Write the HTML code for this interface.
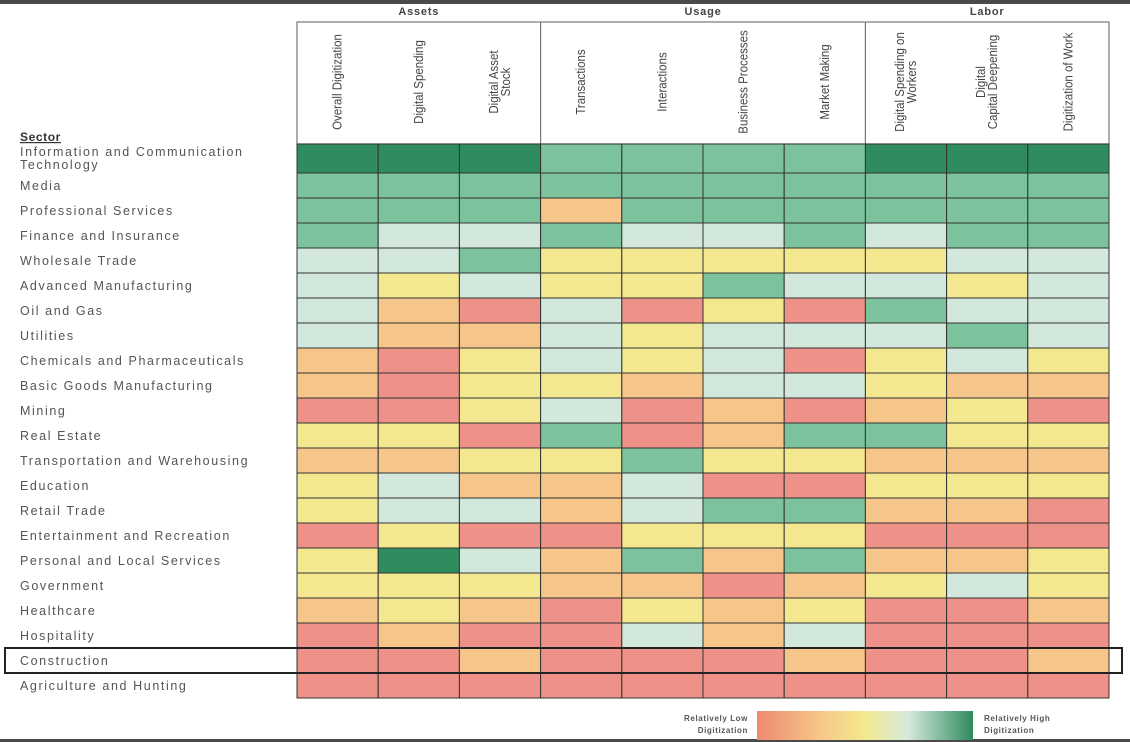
<!DOCTYPE html>
<html><head><meta charset="utf-8">
<style>
html,body{margin:0;padding:0;background:#fff;width:1130px;height:742px;overflow:hidden}
svg{display:block}
text{font-family:"Liberation Sans",sans-serif}
</style></head>
<body>
<svg id="chart" width="1130" height="742" viewBox="0 0 1130 742">
<rect x="0" y="0" width="1130" height="4" fill="#4a4a4a"/>
<rect x="0" y="739" width="1130" height="3" fill="#4a4a4a"/>
<g id="hdr"></g>
<g id="cells"></g>
<g id="labels"></g>
<defs>
<linearGradient id="lg" x1="0" x2="1" y1="0" y2="0">
<stop offset="0" stop-color="#ee8a72"/><stop offset="0.3" stop-color="#f6c888"/>
<stop offset="0.5" stop-color="#f3e98e"/><stop offset="0.7" stop-color="#d6e9dc"/>
<stop offset="1" stop-color="#2e8b5e"/></linearGradient></defs>
<text x="748" y="721" font-size="8" font-weight="bold" letter-spacing="0.6" fill="#555" text-anchor="end">Relatively Low</text>
<text x="748" y="733" font-size="8" font-weight="bold" letter-spacing="0.6" fill="#555" text-anchor="end">Digitization</text>
<rect x="757" y="711" width="216" height="29" fill="url(#lg)"/>
<text x="984" y="721" font-size="8" font-weight="bold" letter-spacing="0.6" fill="#555">Relatively High</text>
<text x="984" y="733" font-size="8" font-weight="bold" letter-spacing="0.6" fill="#555">Digitization</text>
</svg>
<script>
const sectors=["Information and Communication Technology","Media","Professional Services","Finance and Insurance","Wholesale Trade","Advanced Manufacturing","Oil and Gas","Utilities","Chemicals and Pharmaceuticals","Basic Goods Manufacturing","Mining","Real Estate","Transportation and Warehousing","Education","Retail Trade","Entertainment and Recreation","Personal and Local Services","Government","Healthcare","Hospitality","Construction","Agriculture and Hunting"];
const metrics=[["Overall Digitization"],["Digital Spending"],["Digital Asset","Stock"],["Transactions"],["Interactions"],["Business Processes"],["Market Making"],["Digital Spending on","Workers"],["Digital","Capital Deepening"],["Digitization of Work"]];
const groups=["Assets","Usage","Labor"];
const groupSizes=[3,4,3];
const levels=[
[5,5,5,4,4,4,4,5,5,5],
[4,4,4,4,4,4,4,4,4,4],
[4,4,4,1,4,4,4,4,4,4],
[4,3,3,4,3,3,4,3,4,4],
[3,3,4,2,2,2,2,2,3,3],
[3,2,3,2,2,4,3,3,2,3],
[3,1,0,3,0,2,0,4,3,3],
[3,1,1,3,2,3,3,3,4,3],
[1,0,2,3,2,3,0,2,3,2],
[1,0,2,2,1,3,3,2,1,1],
[0,0,2,3,0,1,0,1,2,0],
[2,2,0,4,0,1,4,4,2,2],
[1,1,2,2,4,2,2,1,1,1],
[2,3,1,1,3,0,0,2,2,2],
[2,3,3,1,3,4,4,1,1,0],
[0,2,0,0,2,2,2,0,0,0],
[2,5,3,1,4,1,4,1,1,2],
[2,2,2,1,1,0,1,2,3,2],
[1,2,1,0,2,1,2,0,0,1],
[0,1,0,0,3,1,3,0,0,0],
[0,0,1,0,0,0,1,0,0,1],
[0,0,0,0,0,0,0,0,0,0]];
const highlight="Construction";
const palette=["#ee9189","#f6c58a","#f3e88f","#d3e8dc","#7cc39d","#2f8c5f"];
const NS="http://www.w3.org/2000/svg";
const X0=297,X1=1109,Y0=144,FIRST=29,RH=25;
const cw=(X1-X0)/metrics.length;
function xPos(j){return X0+j*cw;}
function yPos(i){return i===0?Y0:Y0+FIRST+(i-1)*RH;}
function rh(i){return i===0?FIRST:RH;}
function mk(tag,attrs,parent){const e=document.createElementNS(NS,tag);for(const k in attrs)e.setAttribute(k,attrs[k]);parent.appendChild(e);return e;}
const cells=document.getElementById('cells'),labels=document.getElementById('labels'),hdr=document.getElementById('hdr');
const hb=mk('rect',{x:X0,y:22,width:X1-X0,height:Y0-22,fill:'none',stroke:'#777','stroke-width':1.2},hdr);


let gs=0;
groups.forEach((g,k)=>{
  const xa=xPos(gs),xb=xPos(gs+groupSizes[k]);
  const t=mk('text',{x:(xa+xb)/2,y:15,'font-size':11,'font-weight':'bold','letter-spacing':0.8,'text-anchor':'middle',fill:'#444'},hdr);
  t.textContent=g;
  
  
  if(k>0){const l=mk('line',{x1:xa,x2:xa,y1:22,y2:Y0,stroke:'#777','stroke-width':1.2},hdr);
    
    }
  gs+=groupSizes[k];
});
metrics.forEach((m,j)=>{
  const cx=xPos(j)+cw/2;
  const g=mk('g',{transform:`translate(${cx},82) rotate(-90) scale(0.92,1)`},hdr);
  const t=mk('text',{'font-size':12.5,fill:'#444','text-anchor':'middle'},g);
  
  
  const n=m.length;
  m.forEach((line,li)=>{const ts=mk('tspan',{x:0,y:(li-(n-1)/2)*12+4},t);ts.textContent=line;});
});
const st=mk('text',{x:20,y:141,'font-size':12,'font-weight':'bold','letter-spacing':0.6,fill:'#333','text-decoration':'underline'},labels);
st.textContent='Sector';


sectors.forEach((s,i)=>{
  const y=yPos(i);
  levels[i].forEach((v,j)=>{
    const r=mk('rect',{x:xPos(j),y:y,width:cw,height:rh(i),fill:palette[v],stroke:'#333','stroke-width':1},cells);
    
    
  });
  const t=mk('text',{x:20,'font-size':12.5,'letter-spacing':1.6,fill:'#555'},labels);
  
  
  if(i===0){
    const a=mk('tspan',{x:20,y:y+12},t);a.textContent='Information and Communication';
    const b=mk('tspan',{x:20,y:y+25},t);b.textContent='Technology';
  } else {t.setAttribute('y',y+rh(i)/2+4.5);t.textContent=s;}
  if(s===highlight){
    const h=mk('rect',{x:5,y:y,width:1117,height:rh(i),fill:'none',stroke:'#222','stroke-width':2},labels);
    
    
  }
});
</script>
</body></html>
